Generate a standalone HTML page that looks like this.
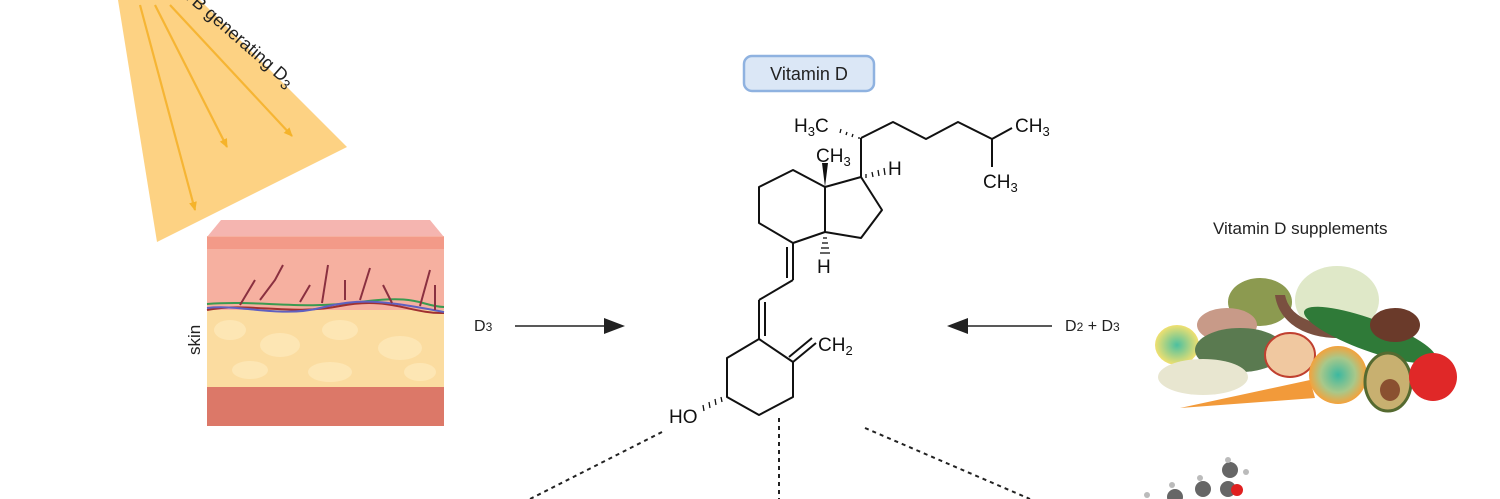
<!DOCTYPE html>
<html><head><meta charset="utf-8"><style>
html,body{margin:0;padding:0;background:#fff;}
body{width:1500px;height:499px;overflow:hidden;position:relative;font-family:"Liberation Sans",sans-serif;}
</style></head><body>
<svg width="1500" height="499" viewBox="0 0 1500 499" xmlns="http://www.w3.org/2000/svg" style="position:absolute;left:0;top:0">
<defs>
<marker id="ah" markerWidth="10" markerHeight="10" refX="8" refY="5" orient="auto" markerUnits="userSpaceOnUse"><path d="M0,1 L9,5 L0,9 Z" fill="#f5b32a"/></marker>
<radialGradient id="mold" cx="50%" cy="50%" r="50%"><stop offset="0" stop-color="#3cb8a0"/><stop offset="0.6" stop-color="#a8c88a"/><stop offset="1" stop-color="#f4a23c"/></radialGradient>
<radialGradient id="lem" cx="50%" cy="50%" r="50%"><stop offset="0" stop-color="#4cc0a0"/><stop offset="1" stop-color="#f0e070"/></radialGradient>
</defs>
<polygon points="118,0 200,0 347,147 157,242" fill="#fdd283"/>
<g stroke="#f6b534" stroke-width="2.2" fill="none">
<line x1="140" y1="5" x2="195" y2="210" marker-end="url(#ah)"/>
<line x1="155" y1="5" x2="227" y2="147" marker-end="url(#ah)"/>
<line x1="170" y1="5" x2="292" y2="136" marker-end="url(#ah)"/>
</g>
<text transform="translate(182,-4) rotate(41)" font-size="18" fill="#222">VB generating D<tspan font-size="14" dy="4">3</tspan></text>
<polygon points="207,237 221,220 430,220 444,237" fill="#f5b5b0"/>
<rect x="207" y="236" width="237" height="190" fill="#f6b0a0"/>
<rect x="207" y="237" width="237" height="12" fill="#f39a88"/>
<rect x="207" y="310" width="237" height="78" fill="#fbdca0"/>
<g fill="#fde6b4"><ellipse cx="230" cy="330" rx="16" ry="10"/><ellipse cx="280" cy="345" rx="20" ry="12"/><ellipse cx="340" cy="330" rx="18" ry="10"/><ellipse cx="400" cy="348" rx="22" ry="12"/><ellipse cx="250" cy="370" rx="18" ry="9"/><ellipse cx="330" cy="372" rx="22" ry="10"/><ellipse cx="420" cy="372" rx="16" ry="9"/></g>
<rect x="207" y="387" width="237" height="39" fill="#dc7868"/>
<g fill="none" stroke-width="2">
<path d="M207,304 C260,300 300,310 360,302 S420,306 444,307" stroke="#3a9a50"/>
<path d="M207,310 C250,302 290,316 340,306 S410,314 444,313" stroke="#a03030"/>
<path d="M207,308 C240,304 280,318 320,308 S380,300 444,312" stroke="#6060c0"/>
<path d="M240,305 L255,280 M260,300 L275,280 L283,265 M300,302 L310,285 M322,303 L328,265 M345,300 L345,280 M360,300 L370,268 M392,303 L383,285 M420,306 L430,270 M435,310 L435,285" stroke="#8a3040"/>
</g>
<text transform="translate(200,355) rotate(-90)" font-size="17" fill="#222">skin</text>
<text x="474" y="331" font-size="16" fill="#222">D<tspan font-size="12">3</tspan></text>
<line x1="515" y1="326" x2="608" y2="326" stroke="#222" stroke-width="1.6"/>
<polygon points="625,326 604,318 604,334" fill="#222"/>
<line x1="965" y1="326" x2="1052" y2="326" stroke="#222" stroke-width="1.6"/>
<polygon points="947,326 968,318 968,334" fill="#222"/>
<text x="1065" y="331" font-size="16" fill="#222">D<tspan font-size="12">2</tspan> + D<tspan font-size="12">3</tspan></text>
<rect x="744" y="56" width="130" height="35" rx="8" fill="#dbe7f6" stroke="#8fb2e0" stroke-width="2.5"/>
<text x="809" y="80" font-size="18" fill="#222" text-anchor="middle">Vitamin D</text>
<g stroke="#111" stroke-width="2" fill="none" stroke-linejoin="round">
<polyline points="861,138 893,122 926,139 958,122 992,139 1012,128"/>
<line x1="992" y1="139" x2="992" y2="167"/>
<line x1="861" y1="138" x2="861" y2="177"/>
<polygon points="861,177 825,187 825,232 861,238 882,210" />
<polyline points="825,187 793,170 759,187 759,223 793,243 825,232"/>
<line x1="793" y1="243" x2="793" y2="280"/><line x1="787" y1="247" x2="787" y2="278"/>
<line x1="793" y1="280" x2="759" y2="300"/>
<line x1="759" y1="300" x2="759" y2="339"/><line x1="765" y1="302" x2="765" y2="336"/>
<polyline points="759,339 727,358 727,397 759,415 793,397 793,362 759,339"/>
<line x1="793" y1="362" x2="816" y2="343"/><line x1="789" y1="357" x2="812" y2="338"/>
</g>
<polygon points="825,187 822,163 828,163" fill="#111"/>
<g stroke="#111" stroke-width="1.3">
<line x1="859" y1="137" x2="859" y2="139"/><line x1="853" y1="134" x2="852" y2="137"/><line x1="847" y1="132" x2="846" y2="135"/><line x1="841" y1="129" x2="840" y2="133"/>
<line x1="866" y1="174" x2="866" y2="178"/><line x1="872" y1="172" x2="873" y2="177"/><line x1="878" y1="170" x2="879" y2="176"/><line x1="884" y1="168" x2="885" y2="175"/>
<line x1="823" y1="238" x2="827" y2="238"/><line x1="822" y1="243" x2="828" y2="243"/><line x1="821" y1="248" x2="829" y2="248"/><line x1="820" y1="253" x2="830" y2="253"/>
<line x1="721" y1="397" x2="722" y2="402"/><line x1="715" y1="399" x2="716" y2="405"/><line x1="709" y1="402" x2="710" y2="408"/><line x1="703" y1="405" x2="704" y2="411"/>
</g>
<g font-size="19" fill="#111">
<text x="794" y="132">H<tspan font-size="13" dy="4">3</tspan><tspan dy="-4">C</tspan></text>
<text x="1015" y="132">CH<tspan font-size="13" dy="4">3</tspan></text>
<text x="983" y="188">CH<tspan font-size="13" dy="4">3</tspan></text>
<text x="816" y="162">CH<tspan font-size="13" dy="4">3</tspan></text>
<text x="888" y="175">H</text>
<text x="817" y="273">H</text>
<text x="818" y="351">CH<tspan font-size="13" dy="4">2</tspan></text>
<text x="669" y="423">HO</text>
</g>
<g stroke="#222" stroke-width="2" stroke-dasharray="4,4" fill="none">
<line x1="662" y1="432" x2="530" y2="499"/>
<line x1="779" y1="418" x2="779" y2="499"/>
<line x1="865" y1="428" x2="1030" y2="499"/>
</g>
<text x="1213" y="234" font-size="17" fill="#222">Vitamin D supplements</text>
<ellipse cx="1260" cy="302" rx="32" ry="24" fill="#8c9a50"/>
<ellipse cx="1337" cy="300" rx="42" ry="34" fill="#dfe8c8"/>
<ellipse cx="1227" cy="325" rx="30" ry="17" fill="#c89a88"/>
<path d="M1275,295 C1280,330 1320,345 1365,335 L1370,325 C1320,330 1290,320 1285,295Z" fill="#7a5040"/>
<ellipse cx="1177" cy="345" rx="22" ry="20" fill="url(#lem)"/>
<ellipse cx="1240" cy="350" rx="45" ry="22" fill="#5a7a50"/>
<ellipse cx="1370" cy="335" rx="70" ry="16" fill="#2f7a38" transform="rotate(20 1370 335)"/>
<ellipse cx="1395" cy="325" rx="25" ry="17" fill="#6a3a2a"/>
<ellipse cx="1203" cy="377" rx="45" ry="18" fill="#e8e6d0"/>
<ellipse cx="1290" cy="355" rx="25" ry="22" fill="#f0c8a0" stroke="#c04030" stroke-width="2"/>
<path d="M1180,408 L1310,380 L1315,398 Z" fill="#f29a3a"/>
<circle cx="1338" cy="375" r="29" fill="url(#mold)"/>
<ellipse cx="1388" cy="382" rx="23" ry="29" fill="#c8b070" stroke="#556a30" stroke-width="3"/>
<ellipse cx="1390" cy="390" rx="10" ry="11" fill="#8a5030"/>
<circle cx="1433" cy="377" r="24" fill="#e02828"/>
<g fill="#666"><circle cx="1175" cy="497" r="8"/><circle cx="1203" cy="489" r="8"/><circle cx="1228" cy="489" r="8"/><circle cx="1230" cy="470" r="8"/></g>
<circle cx="1237" cy="490" r="6" fill="#e02020"/>
<g fill="#bbb"><circle cx="1147" cy="495" r="3"/><circle cx="1172" cy="485" r="3"/><circle cx="1200" cy="478" r="3"/><circle cx="1228" cy="460" r="3"/><circle cx="1246" cy="472" r="3"/></g>
</svg>
</body></html>
